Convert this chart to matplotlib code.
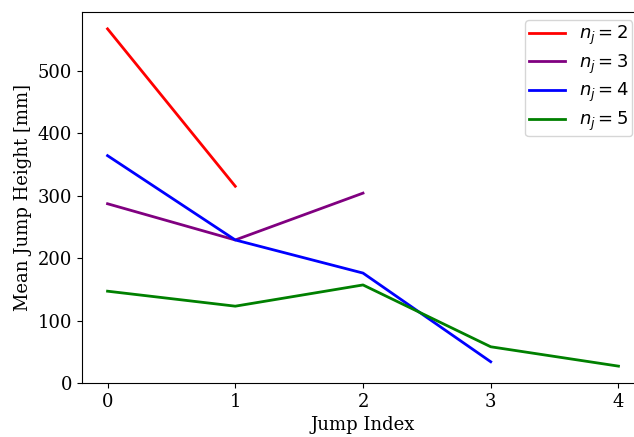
import matplotlib
matplotlib.use("Agg")
import matplotlib.pyplot as plt

jump_index = [0, 1, 2, 3, 4]
heights_n2 = [567, 315]
heights_n3 = [287, 229, 304]
heights_n4 = [364, 229, 176, 34]
heights_n5 = [147, 123, 157, 58, 27]

series = [
    (heights_n2, "red", r"$n_j = 2$"),
    (heights_n3, "purple", r"$n_j = 3$"),
    (heights_n4, "blue", r"$n_j = 4$"),
    (heights_n5, "green", r"$n_j = 5$"),
]

plt.rcParams["font.family"] = "DejaVu Serif"
plt.rcParams["font.size"] = 13

fig = plt.figure(figsize=(6.34, 4.37), dpi=100)
# the axes run a little past the right edge of the picture
ax = fig.add_axes([82 / 634, 54 / 437, 562 / 634, 371 / 437])

for values, color, label in series:
    ax.plot(jump_index[:len(values)], values, color=color, linewidth=2, label=label)

ax.set_xlim(-0.2, 4.2)
ax.set_ylim(0, 594)
ax.set_xticks(jump_index)
ax.set_xlabel("Jump Index")
ax.set_ylabel("Mean Jump Height [mm]")
ax.legend(loc="upper right", bbox_to_anchor=(0.979, 0.978), borderaxespad=0,
          fontsize=13, labelspacing=0.3, borderpad=0.2, handletextpad=0.75)

fig.savefig("out.png", dpi=100)
